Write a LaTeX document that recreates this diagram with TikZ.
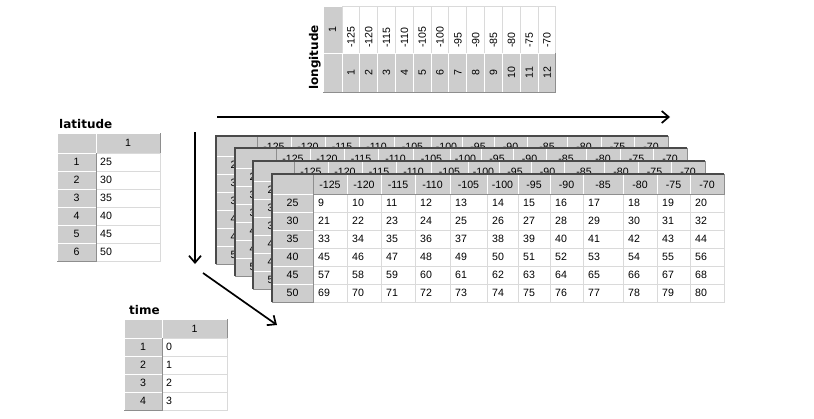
\documentclass[tikz,border=0pt]{standalone}
\usepackage{fontspec}
\setmainfont{Liberation Sans}
\newfontfamily\labfont{DejaVu Sans}
\usetikzlibrary{arrows.meta}
\definecolor{hgray}{HTML}{CDCDCD}
\definecolor{hdark}{HTML}{8E8E8E}
\definecolor{gridc}{HTML}{DADADA}
\definecolor{framec}{HTML}{4A4A4A}
\newcommand{\mkhcell}[4]{%
  \fill[hgray] (#1,#2) rectangle (#3,#4);
  \draw[white,line width=1pt] (#1,#4) -- (#1,#2) -- (#3,#2);
  \draw[hdark,line width=1pt] (#1,#4) -- (#3,#4) -- (#3,#2);
}
\begin{document}
\begin{tikzpicture}[x=1pt,y=-1pt,
  tt/.style={font=\fontsize{10.6}{12}\selectfont, inner sep=0pt},
  ttl/.style={tt,anchor=west},
  lab/.style={font=\labfont\bfseries\fontsize{12}{14}\selectfont, inner sep=0pt},
  gridline/.style={draw=gridc,line width=1pt},
  arr/.style={line width=1.7pt,-{Straight Barb[length=7pt,width=12pt]}}]
\fill[white] (0,0) rectangle (814,418);
\useasboundingbox (0,0) rectangle (814,418);

% ---------- stacked tables ----------
\foreach \k/\ox/\oy in {3/216/136,2/235/148,1/253/161,0/272/174}{
 \begin{scope}[shift={(\ox,\oy)}]
  \fill[white] (0,0) rectangle (452,128);
  \foreach \xa/\xb/\lbl [count=\c from 0] in {41/75/-125,75/109/-120,109/143/-115,143/178/-110,178/215/-105,215/246/-100,246/278/-95,278/311/-90,311/351/-85,351/385/-80,385/418/-75,418/452/-70}{
    \foreach \row in {0,...,5}{
      \draw[gridline] (\xa,{20+18*\row}) rectangle (\xb,{38+18*\row});
    }
    \mkhcell{\xa}{0}{\xb}{20}
    \node[tt] (h\k-\c) at ({(\xa+\xb)/2},10.7) {\lbl};
    \ifnum\k=0
      \foreach \row in {0,...,5}{
        \pgfmathtruncatemacro\val{9+12*\row+\c}
        \node[ttl] (d-\row-\c) at ({\xa+5},{29+18*\row}) {\val};
      }
    \fi
  }
  \mkhcell{0}{0}{41}{20}
  \foreach \v [count=\r from 0] in {25,30,35,40,45,50}{
    \mkhcell{0}{20+18*\r}{41}{38+18*\r}
    \node[tt] (r\k-\r) at (20.5,{29+18*\r}) {\v};
  }
  \draw[framec,line width=1.5pt] (0,128) -- (0,0) -- (452,0);
 \end{scope}
}

% ---------- longitude table ----------
\mkhcell{323}{6}{342}{53}
\node[tt,rotate=90] (lon1) at (332.5,29.5) {1};
\mkhcell{323}{53}{342}{92}
\foreach \lbl [count=\c from 0] in {-125,-120,-115,-110,-105,-100,-95,-90,-85,-80,-75,-70}{
  \pgfmathsetmacro\xa{342+17.83*\c}
  \pgfmathsetmacro\xb{\xa+17.83}
  \pgfmathtruncatemacro\n{\c+1}
  \draw[gridline] (\xa,6) rectangle (\xb,53);
  \node[tt,rotate=90,anchor=west] (lv\c) at ({(\xa+\xb)/2},48) {\lbl};
  \mkhcell{\xa}{53}{\xb}{92}
  \node[tt,rotate=90] (ln\c) at ({(\xa+\xb)/2},72.5) {\n};
}
\node[lab,rotate=90,anchor=base west] (lonlab) at (318,90) {longitude};

% ---------- latitude table ----------
\node[lab,anchor=base west] (latlab) at (59,128) {latitude};
\mkhcell{57}{133}{96}{153}
\mkhcell{96}{133}{160}{153}
\node[tt] (lath) at (128,143) {1};
\foreach \v [count=\c from 0] in {25,30,35,40,45,50}{
  \pgfmathtruncatemacro\n{\c+1}
  \draw[gridline] (96,{153+18*\c}) rectangle (160,{171+18*\c});
  \mkhcell{57}{153+18*\c}{96}{171+18*\c}
  \node[tt] (latn\c) at (76.5,{162+18*\c}) {\n};
  \node[ttl] (latv\c) at (100,{162+18*\c}) {\v};
}

% ---------- time table ----------
\node[lab,anchor=base west] (timelab) at (129,314) {time};
\mkhcell{124}{319}{162}{338}
\mkhcell{162}{319}{227}{338}
\node[tt] (timeh) at (194.5,328.5) {1};
\foreach \v [count=\c from 0] in {0,1,2,3}{
  \pgfmathtruncatemacro\n{\c+1}
  \draw[gridline] (162,{338+18*\c}) rectangle (227,{356+18*\c});
  \mkhcell{124}{338+18*\c}{162}{356+18*\c}
  \node[tt] (timen\c) at (143,{347+18*\c}) {\n};
  \node[ttl] (timev\c) at (166,{347+18*\c}) {\v};
}

% ---------- arrows ----------
\coordinate (hs) at (217,117);
\coordinate (he) at (670,117);
\coordinate (vs) at (195,132);
\coordinate (ve) at (195,264);
\coordinate (ds) at (203,273);
\coordinate (de) at (277,325);
\draw[arr] (hs) -- (he);
\draw[arr] (vs) -- (ve);
\draw[arr] (ds) -- (de);
\end{tikzpicture}
\end{document}
